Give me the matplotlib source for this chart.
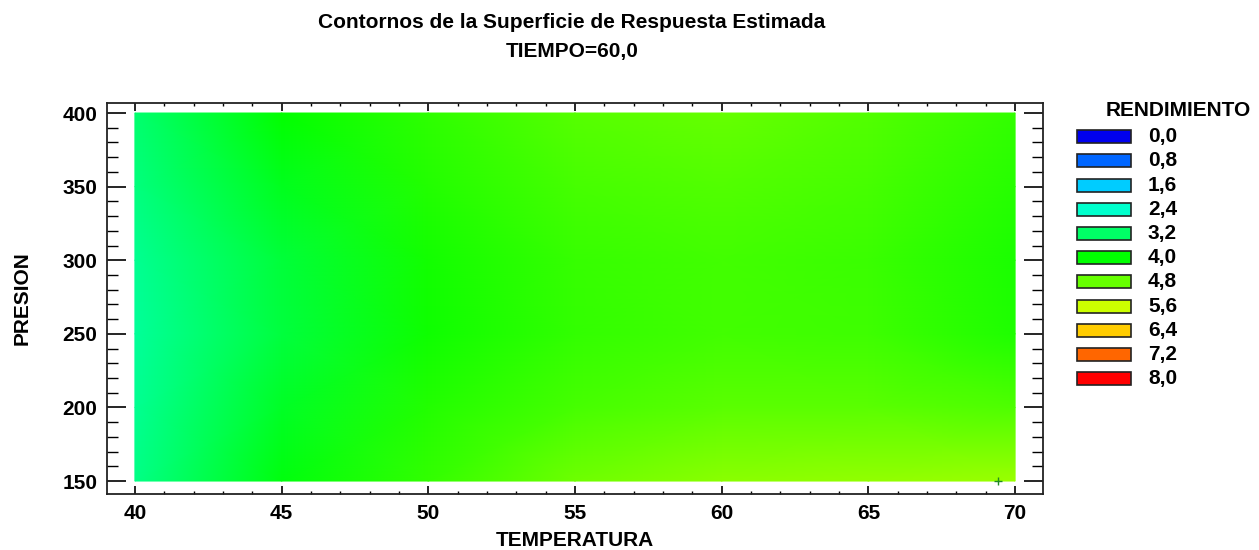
import matplotlib.pyplot as plt
import numpy as np
from matplotlib.colors import LinearSegmentedColormap, Normalize
from matplotlib.patches import Rectangle
from matplotlib.ticker import MultipleLocator

plt.rcParams['font.family'] = ['Liberation Sans', 'DejaVu Sans']
plt.rcParams['font.weight'] = 'bold'

# grid
temperatura = [40, 45, 50, 55, 60, 65, 70]
presion = [150, 200, 250, 300, 350, 400]
rendimiento = [
    [2.95, 3.90, 4.40, 4.85, 5.07, 5.15, 5.20],
    [2.85, 3.70, 4.25, 4.55, 4.70, 4.70, 4.60],
    [2.80, 3.50, 4.12, 4.40, 4.50, 4.47, 4.22],
    [2.85, 3.55, 4.15, 4.42, 4.50, 4.45, 4.20],
    [3.00, 3.75, 4.25, 4.55, 4.65, 4.55, 4.30],
    [3.15, 4.00, 4.35, 4.67, 4.80, 4.65, 4.40],
]
punto_x = [69.4]
punto_y = [150]

niveles = [0.0, 0.8, 1.6, 2.4, 3.2, 4.0, 4.8, 5.6, 6.4, 7.2, 8.0]
etiquetas = ['0,0', '0,8', '1,6', '2,4', '3,2', '4,0', '4,8', '5,6', '6,4', '7,2', '8,0']
colores = ['#0000EE', '#0066FF', '#00CCFF', '#00FFCC', '#00FF66', '#00FF00',
           '#66FF00', '#CCFF00', '#FFCC00', '#FF6600', '#FF0000']

W, H = 1259, 550
fs = 15
fig = plt.figure(figsize=(W / 100, H / 100), dpi=100)


def fx(px):
    return px / W


def fy(py):
    return 1 - py / H


ax = fig.add_axes([fx(107), fy(494), fx(1043) - fx(107), fy(103) - fy(494)])

cmap = LinearSegmentedColormap.from_list(
    'rend', [(v / 8.0, c) for v, c in zip(niveles, colores)])
norm = Normalize(0, 8)

X, Y = np.meshgrid(temperatura, presion)
ax.pcolormesh(X, Y, np.array(rendimiento), cmap=cmap, norm=norm, shading='gouraud')
ax.plot(punto_x, punto_y, '+', color='#228B22', markersize=6, markeredgewidth=1)

ax.set_xlim(39.05, 70.95)
ax.set_ylim(141.2, 406.8)
ax.xaxis.set_major_locator(MultipleLocator(5))
ax.xaxis.set_minor_locator(MultipleLocator(1))
ax.yaxis.set_major_locator(MultipleLocator(50))
ax.yaxis.set_minor_locator(MultipleLocator(10))
ax.tick_params(axis='x', which='major', direction='in', top=True, length=5.5, width=1.2,
               labelsize=fs, pad=7)
ax.tick_params(axis='x', which='minor', direction='in', top=True, length=2.5, width=1)
ax.tick_params(axis='y', which='major', direction='in', right=True, length=13.5, width=1.2,
               labelsize=fs, pad=7)
ax.tick_params(axis='y', which='minor', direction='in', right=True, length=8, width=1)
for lab in ax.get_xticklabels() + ax.get_yticklabels():
    lab.set_fontweight('bold')
for s in ax.spines.values():
    s.set_linewidth(1.3)
    s.set_color('#222222')

fig.text(fx(572), fy(22), 'Contornos de la Superficie de Respuesta Estimada',
         ha='center', va='center', fontsize=fs, fontweight='bold')
fig.text(fx(572), fy(52), 'TIEMPO=60,0', ha='center', va='center',
         fontsize=fs, fontweight='bold')
fig.text(fx(575), fy(540), 'TEMPERATURA', ha='center', va='center',
         fontsize=fs, fontweight='bold')
fig.text(fx(22), fy(298), 'PRESION', ha='center', va='center', rotation=90,
         fontsize=fs, fontweight='bold')

# legend
fig.text(fx(1178), fy(111), 'RENDIMIENTO', ha='center', va='center',
         fontsize=fs, fontweight='bold')
for i, (c, t) in enumerate(zip(colores, etiquetas)):
    yc = 136.7 + i * 24.2
    fig.patches.append(Rectangle((fx(1077), fy(yc + 6.5)), fx(1131) - fx(1077),
                                 fy(yc - 6.5) - fy(yc + 6.5), transform=fig.transFigure,
                                 facecolor=c, edgecolor='#222222', linewidth=1.2))
    fig.text(fx(1148), fy(yc), t, ha='left', va='center', fontsize=fs,
             fontweight='bold')

fig.savefig('out.png', dpi=100)
